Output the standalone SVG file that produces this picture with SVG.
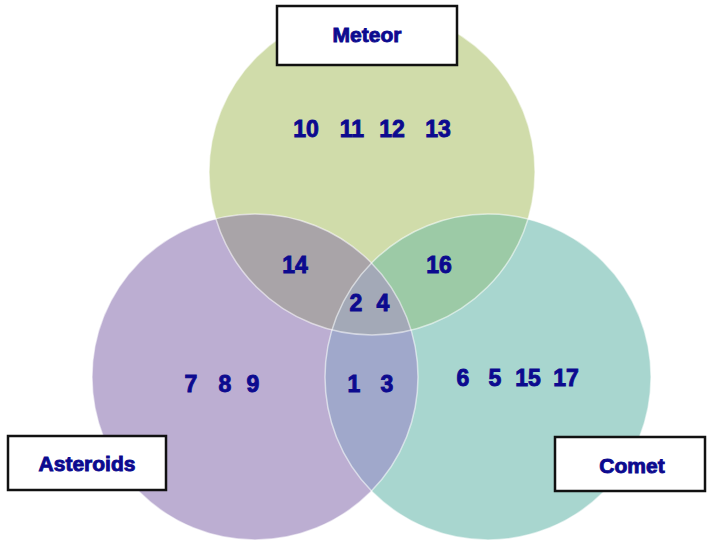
<svg xmlns="http://www.w3.org/2000/svg" width="707" height="544" viewBox="0 0 707 544">
<style>
.lbl{font-family:"Liberation Sans",Arial,sans-serif;font-weight:bold;fill:#0c0a8f;stroke:#0c0a8f;stroke-width:0.9;text-anchor:middle}
.box{fill:#ffffff;stroke:#111111;stroke-width:2.5}
.edge{fill:none;stroke:#ffffff;stroke-width:1.5;stroke-opacity:0.55}
.n{font-size:23px}
.t{font-size:21px}
</style>
<defs>
<clipPath id="cM"><circle cx="372" cy="172" r="163"/></clipPath>
<clipPath id="cA"><circle cx="255" cy="377" r="163"/></clipPath>
<clipPath id="cC"><circle cx="488" cy="377" r="163"/></clipPath>
</defs>
<rect width="707" height="544" fill="#ffffff"/>
<g id="meteor-circle"><circle cx="372" cy="172" r="163" fill="#d0dcaa"/></g>
<g id="asteroids-circle"><circle cx="255" cy="377" r="163" fill="#bcaed2"/></g>
<g id="comet-circle"><circle cx="488" cy="377" r="163" fill="#a8d6cf"/></g>
<g id="overlaps">
<circle cx="255" cy="377" r="163" fill="#a9a4a8" clip-path="url(#cM)"/>
<circle cx="488" cy="377" r="163" fill="#9ccaa6" clip-path="url(#cM)"/>
<circle cx="488" cy="377" r="163" fill="#a0a8cb" clip-path="url(#cA)"/>
<g clip-path="url(#cM)"><circle cx="488" cy="377" r="163" fill="#a3a9b7" clip-path="url(#cA)"/></g>
</g>
<g id="outlines">
<circle class="edge" cx="372" cy="172" r="163"/>
<circle class="edge" cx="255" cy="377" r="163"/>
<circle class="edge" cx="488" cy="377" r="163"/>
</g>
<g id="connectors"></g>
<g id="meteor-label"><rect class="box" x="277" y="6" width="180" height="59"/><text class="lbl t" x="367" y="42">Meteor</text></g>
<g id="asteroids-label"><rect class="box" x="8" y="436" width="158" height="54"/><text class="lbl t" x="87" y="471">Asteroids</text></g>
<g id="comet-label"><rect class="box" x="555" y="437" width="150" height="54"/><text class="lbl t" x="632" y="473">Comet</text></g>
<g id="numbers">
<text class="lbl n" x="306" y="137">10</text>
<text class="lbl n" x="352" y="137">11</text>
<text class="lbl n" x="392" y="137">12</text>
<text class="lbl n" x="438" y="137">13</text>
<text class="lbl n" x="295" y="273">14</text>
<text class="lbl n" x="439" y="273">16</text>
<text class="lbl n" x="356" y="311">2</text>
<text class="lbl n" x="383" y="311">4</text>
<text class="lbl n" x="354" y="392">1</text>
<text class="lbl n" x="387" y="392">3</text>
<text class="lbl n" x="191" y="392">7</text>
<text class="lbl n" x="225" y="392">8</text>
<text class="lbl n" x="253" y="392">9</text>
<text class="lbl n" x="463" y="386">6</text>
<text class="lbl n" x="495" y="386">5</text>
<text class="lbl n" x="528" y="386">15</text>
<text class="lbl n" x="566" y="386">17</text>
</g>
</svg>
